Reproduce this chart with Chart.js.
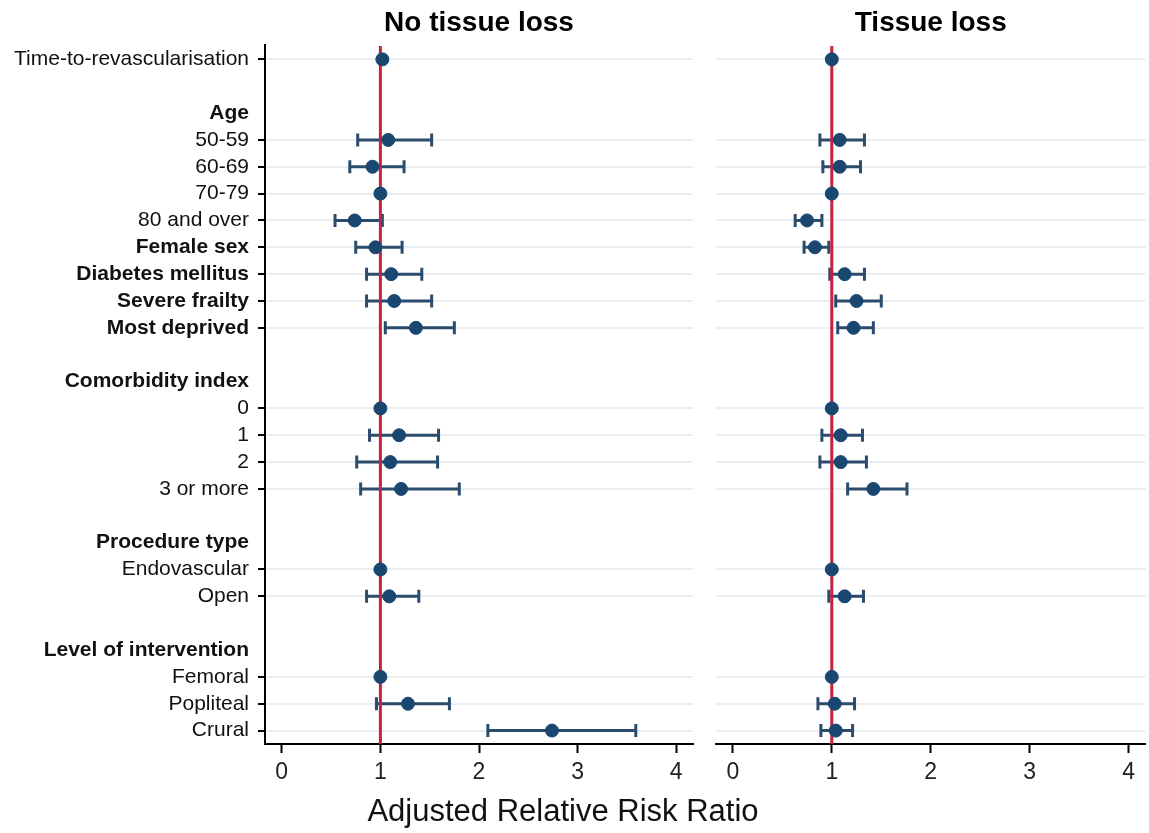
<!DOCTYPE html>
<html>
<head>
<meta charset="utf-8">
<script src="https://cdn.jsdelivr.net/npm/chart.js@4"></script>
<style>
    body { margin: 0; background: #fff; }
    #wrap { position: relative; width: 1149px; height: 833px; overflow: hidden; }
    .panel { position: absolute; top: 0; height: 833px; }
    #left-panel { left: 0; width: 705px; }
    #right-panel { left: 705px; width: 448px; }
    #x-title {
        position: absolute; left: 0; width: 1126px; top: 793px;
        text-align: center; font-family: 'Liberation Sans', Arial, sans-serif;
        font-size: 31px; line-height: 36px; color: #111;
    }
</style>
</head>
<body>
<div id="wrap">
    <div class="panel" id="left-panel"><canvas id="chart-left"></canvas></div>
    <div class="panel" id="right-panel"><canvas id="chart-right"></canvas></div>
    <div id="x-title">Adjusted Relative Risk Ratio</div>
</div>
<script>
const rowLabels = [
    'Time-to-revascularisation', '',
    'Age', '50-59', '60-69', '70-79', '80 and over',
    'Female sex', 'Diabetes mellitus', 'Severe frailty', 'Most deprived', '',
    'Comorbidity index', '0', '1', '2', '3 or more', '',
    'Procedure type', 'Endovascular', 'Open', '',
    'Level of intervention', 'Femoral', 'Popliteal', 'Crural'
];
const headerRows = ['Age', 'Comorbidity index', 'Procedure type', 'Level of intervention'];
const boldRows = [...headerRows, 'Female sex', 'Diabetes mellitus', 'Severe frailty', 'Most deprived'];
const xTicks = [0, 1, 2, 3, 4];
const referenceValue = 1;

// No tissue loss: estimate, lower and upper 95% CI per row (null = nothing drawn)
const noLossEst = [1.02, null, null, 1.08, 0.92, 1, 0.74, 0.95, 1.11, 1.14, 1.36, null, null, 1, 1.19, 1.10, 1.21, null, null, 1, 1.09, null, null, 1, 1.28, 2.74];
const noLossLo  = [null, null, null, 0.77, 0.69, null, 0.54, 0.75, 0.86, 0.86, 1.05, null, null, null, 0.89, 0.76, 0.80, null, null, null, 0.86, null, null, null, 0.96, 2.09];
const noLossHi  = [null, null, null, 1.52, 1.24, null, 1.02, 1.22, 1.42, 1.52, 1.75, null, null, null, 1.59, 1.58, 1.80, null, null, null, 1.39, null, null, null, 1.70, 3.59];

// Tissue loss
const lossEst = [1.0, null, null, 1.08, 1.08, 1, 0.75, 0.83, 1.13, 1.25, 1.22, null, null, 1, 1.09, 1.09, 1.42, null, null, 1, 1.13, null, null, 1, 1.03, 1.04];
const lossLo  = [null, null, null, 0.88, 0.91, null, 0.63, 0.72, 0.98, 1.04, 1.06, null, null, null, 0.90, 0.88, 1.16, null, null, null, 0.97, null, null, null, 0.86, 0.89];
const lossHi  = [null, null, null, 1.33, 1.29, null, 0.90, 0.97, 1.33, 1.50, 1.42, null, null, null, 1.31, 1.35, 1.76, null, null, null, 1.32, null, null, null, 1.23, 1.21];

const FONT = "'Liberation Sans', Arial, sans-serif";
const NAVY = '#1a476f';
const BAR = '#2b4c6d';
const RED = '#c8203f';
const GRID = '#e8eef1';
const Y_MIN = -0.55;
const Y_MAX = 25.5;

const tickRows = rowLabels.map((l, i) => l ? i : null).filter(i => i !== null);
const isHeader = i => headerRows.includes(rowLabels[i]);

// whiskers with end caps, drawn under the points
function errorBarPlugin(lo, hi) {
    return {
        id: 'errorBars',
        beforeDatasetsDraw(chart) {
            const { ctx, scales: { x, y } } = chart;
            ctx.save();
            ctx.strokeStyle = BAR;
            ctx.lineWidth = 3;
            lo.forEach((l, i) => {
                if (l === null || hi[i] === null) return;
                const x1 = x.getPixelForValue(l);
                const x2 = x.getPixelForValue(hi[i]);
                const yy = y.getPixelForValue(i);
                ctx.beginPath();
                ctx.moveTo(x1, yy);
                ctx.lineTo(x2, yy);
                ctx.moveTo(x1, yy - 6.5);
                ctx.lineTo(x1, yy + 6.5);
                ctx.moveTo(x2, yy - 6.5);
                ctx.lineTo(x2, yy + 6.5);
                ctx.stroke();
            });
            ctx.restore();
        }
    };
}

function makePanel(canvasId, title, est, lo, hi, showLabels) {
    const points = est.map((v, i) => v === null ? null : { x: v, y: i }).filter(p => p);
    return new Chart(document.getElementById(canvasId), {
        type: 'scatter',
        data: {
            datasets: [
                {
                    type: 'line',
                    data: [{ x: referenceValue, y: Y_MIN + 0.05 }, { x: referenceValue, y: Y_MAX }],
                    borderColor: RED,
                    borderWidth: 3,
                    pointRadius: 0,
                    order: 2
                },
                {
                    data: points,
                    backgroundColor: NAVY,
                    borderColor: NAVY,
                    pointRadius: 6.5,
                    pointHoverRadius: 6.5,
                    order: 1
                }
            ]
        },
        options: {
            responsive: true,
            maintainAspectRatio: false,
            animation: false,
            layout: { padding: showLabels ? { right: 12 } : { left: 11, right: 0 } },
            plugins: {
                legend: { display: false },
                tooltip: { enabled: false },
                title: {
                    display: true,
                    text: title,
                    fullSize: false,
                    color: '#000',
                    font: { family: FONT, size: 28, weight: 'bold' },
                    padding: { top: 6, bottom: 5 }
                }
            },
            scales: {
                x: {
                    type: 'linear',
                    min: -0.17,
                    max: 4.17,
                    afterBuildTicks: scale => { scale.ticks = xTicks.map(v => ({ value: v })); },
                    afterFit: scale => { scale.height = 89; },
                    border: { display: true, color: '#000', width: 2 },
                    grid: { drawOnChartArea: false, tickLength: 9, tickColor: '#000', tickWidth: 2 },
                    ticks: { color: '#222', padding: 6, font: { family: FONT, size: 23 } }
                },
                y: {
                    type: 'linear',
                    reverse: true,
                    min: Y_MIN,
                    max: Y_MAX,
                    afterBuildTicks: scale => { scale.ticks = tickRows.map(v => ({ value: v })); },
                    afterFit: scale => { scale.width = showLabels ? 265 : 0; },
                    border: { display: showLabels, color: '#000', width: 2 },
                    grid: {
                        color: ctx => isHeader(ctx.tick.value) ? 'rgba(0,0,0,0)' : GRID,
                        lineWidth: 2,
                        drawTicks: showLabels,
                        tickLength: 7,
                        tickWidth: 2,
                        tickColor: ctx => isHeader(ctx.tick.value) ? 'rgba(0,0,0,0)' : '#000'
                    },
                    ticks: {
                        display: showLabels,
                        autoSkip: false,
                        padding: 9,
                        color: '#111',
                        callback: v => rowLabels[v],
                        font: ctx => ({
                            family: FONT,
                            size: 21,
                            weight: ctx.tick && boldRows.includes(rowLabels[ctx.tick.value]) ? 'bold' : 'normal'
                        })
                    }
                }
            }
        },
        plugins: [errorBarPlugin(lo, hi)]
    });
}

makePanel('chart-left', 'No tissue loss', noLossEst, noLossLo, noLossHi, true);
makePanel('chart-right', 'Tissue loss', lossEst, lossLo, lossHi, false);
</script>
</body>
</html>
